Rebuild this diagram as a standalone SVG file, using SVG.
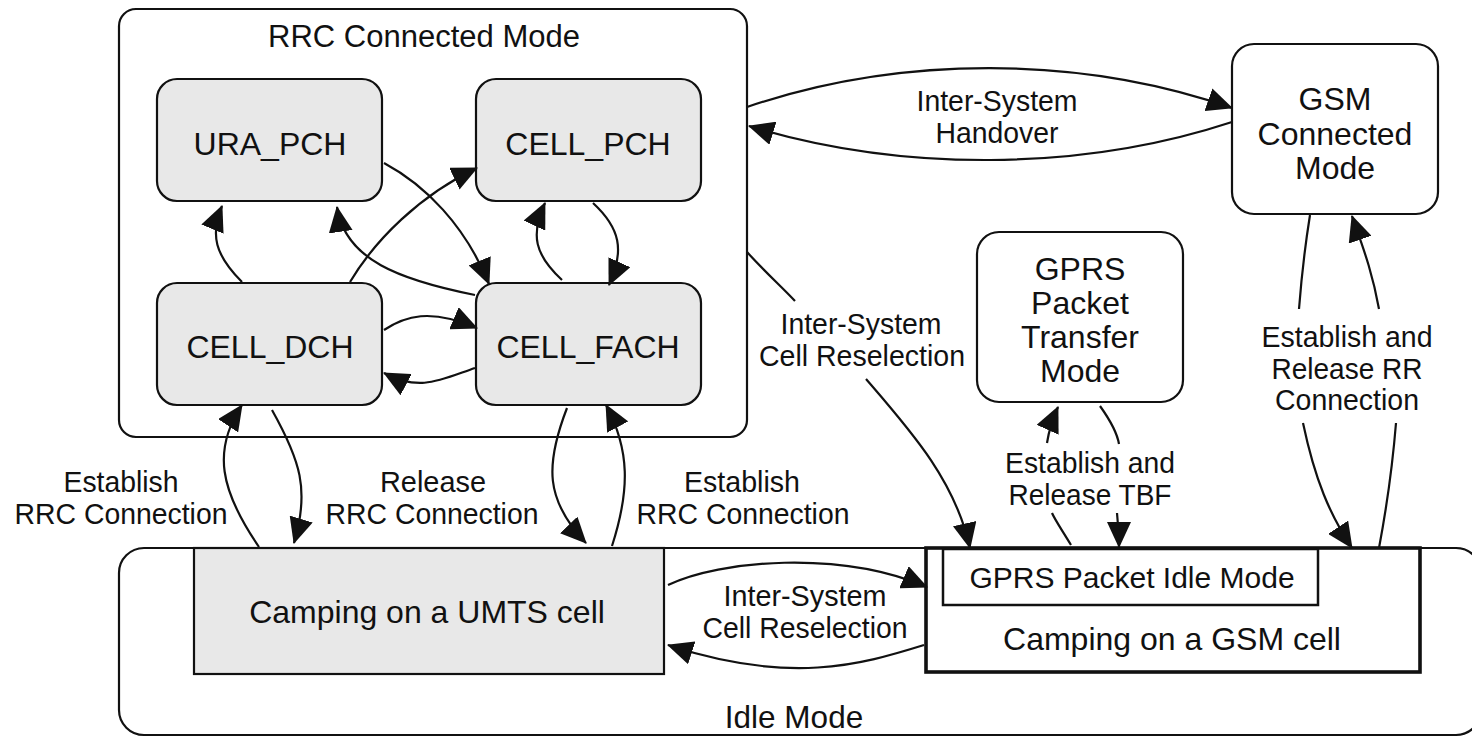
<svg xmlns="http://www.w3.org/2000/svg" width="1472" height="738" viewBox="0 0 1472 738">
<style>
text{font-family:"Liberation Sans",Arial,sans-serif;fill:#111;text-anchor:middle}
.n{font-size:32px}
.l{font-size:29px}
.box{fill:#fff;stroke:#111;stroke-width:2.2}
.st{fill:#e8e8e8;stroke:#111;stroke-width:2.2}
.c path{fill:none;stroke:#111;stroke-width:2.2}
.a{marker-end:url(#ah)}
</style>
<defs>
<marker id="ah" viewBox="0 0 26 24" refX="25" refY="12" markerWidth="26" markerHeight="24" markerUnits="userSpaceOnUse" orient="auto">
<path d="M0,0 L26,12 L0,24 z" fill="#111"/>
</marker>
</defs>
<g id="idle-mode">
<rect class="box" x="119" y="548" width="1362" height="187" rx="25"/>
<text class="n" x="794" y="728" style="font-size:31.5px">Idle Mode</text>
</g>
<g id="camping-umts">
<rect class="st" x="194" y="548" width="470" height="126"/>
<text class="n" x="427" y="623">Camping on a UMTS cell</text>
</g>
<g id="camping-gsm">
<rect x="926" y="548" width="494" height="124" fill="#fff" stroke="#111" stroke-width="3.6"/>
<text class="n" x="1172" y="650">Camping on a GSM cell</text>
</g>
<g id="gprs-idle">
<rect x="943" y="549" width="375" height="56" fill="#fff" stroke="#111" stroke-width="2.5"/>
<text class="n" x="1132" y="588" style="font-size:30px">GPRS Packet Idle Mode</text>
</g>
<g id="rrc-connected">
<rect class="box" x="119" y="9" width="628" height="428" rx="17"/>
<text class="n" x="424" y="47" style="font-size:31px">RRC Connected Mode</text>
</g>
<g id="ura-pch">
<rect class="st" x="157" y="79" width="225" height="122" rx="20"/>
<text class="n" x="270" y="155">URA_PCH</text>
</g>
<g id="cell-pch">
<rect class="st" x="476" y="79" width="225" height="122" rx="20"/>
<text class="n" x="588" y="155">CELL_PCH</text>
</g>
<g id="cell-dch">
<rect class="st" x="157" y="283" width="225" height="122" rx="20"/>
<text class="n" x="270" y="358">CELL_DCH</text>
</g>
<g id="cell-fach">
<rect class="st" x="476" y="283" width="225" height="122" rx="20"/>
<text class="n" x="588" y="358">CELL_FACH</text>
</g>
<g id="gsm-connected">
<rect class="box" x="1232" y="44" width="206" height="170" rx="22"/>
<text class="n" x="1335" y="110">GSM</text>
<text class="n" x="1335" y="145">Connected</text>
<text class="n" x="1335" y="179">Mode</text>
</g>
<g id="gprs-transfer">
<rect class="box" x="977" y="232" width="206" height="170" rx="22"/>
<text class="n" x="1080" y="280">GPRS</text>
<text class="n" x="1080" y="314">Packet</text>
<text class="n" x="1080" y="348">Transfer</text>
<text class="n" x="1080" y="382">Mode</text>
</g>
<g id="connectors" class="c">
<path class="a" d="M747 107 C900 55 1080 55 1232 108"/>
<path class="a" d="M1232 122 C1080 172 900 172 749 126"/>
<path class="a" d="M384 163 C425 185 465 225 489 284"/>
<path class="a" d="M350 282 C375 240 420 195 477 168"/>
<path class="a" d="M242 282 C215 255 210 235 222 206"/>
<path class="a" d="M475 295 C400 280 345 260 337 207"/>
<path class="a" d="M593 203 C620 228 625 250 609 285"/>
<path class="a" d="M562 280 C535 255 530 235 545 203"/>
<path class="a" d="M384 330 C405 316 430 308 477 328"/>
<path class="a" d="M475 368 C440 380 420 392 384 373"/>
<path class="a" d="M259 547 C220 490 212 450 242 405"/>
<path class="a" d="M272 410 C300 460 310 490 294 543"/>
<path class="a" d="M567 408 C545 465 545 500 586 543"/>
<path class="a" d="M612 546 C630 490 630 450 606 405"/>
<path d="M747 252 C765 272 782 287 795 301"/>
<path class="a" d="M866 379 C910 430 955 480 970 548"/>
<path d="M1071 545 C1062 530 1055 520 1052 513"/>
<path class="a" d="M1047 443 C1049 430 1053 418 1058 407"/>
<path d="M1100 406 C1110 420 1117 432 1119 444"/>
<path class="a" d="M1117 513 C1118 525 1119 535 1119 547"/>
<path d="M1299 309 C1302 270 1306 240 1310 215"/>
<path class="a" d="M1303 423 C1315 480 1330 515 1352 548"/>
<path d="M1379 548 C1388 500 1393 460 1396 423"/>
<path class="a" d="M1379 309 C1372 270 1362 245 1352 216"/>
<path class="a" d="M668 585 C720 560 840 550 927 587"/>
<path class="a" d="M924 645 C860 665 790 685 668 645"/>
</g>
<g id="labels">
<text class="l" x="997" y="111" textLength="161" lengthAdjust="spacingAndGlyphs">Inter-System</text>
<text class="l" x="997" y="143" textLength="123" lengthAdjust="spacingAndGlyphs">Handover</text>
<text class="l" x="861" y="334" textLength="161" lengthAdjust="spacingAndGlyphs">Inter-System</text>
<text class="l" x="862" y="366" textLength="206" lengthAdjust="spacingAndGlyphs">Cell Reselection</text>
<text class="l" x="1090" y="473" textLength="170" lengthAdjust="spacingAndGlyphs">Establish and</text>
<text class="l" x="1090" y="505" textLength="163" lengthAdjust="spacingAndGlyphs">Release TBF</text>
<text class="l" x="1347" y="347" textLength="171" lengthAdjust="spacingAndGlyphs">Establish and</text>
<text class="l" x="1347" y="379" textLength="151" lengthAdjust="spacingAndGlyphs">Release RR</text>
<text class="l" x="1347" y="410" textLength="144" lengthAdjust="spacingAndGlyphs">Connection</text>
<text class="l" x="121" y="492" textLength="115" lengthAdjust="spacingAndGlyphs">Establish</text>
<text class="l" x="121" y="524" textLength="213" lengthAdjust="spacingAndGlyphs">RRC Connection</text>
<text class="l" x="433" y="492" textLength="106" lengthAdjust="spacingAndGlyphs">Release</text>
<text class="l" x="432" y="524" textLength="213" lengthAdjust="spacingAndGlyphs">RRC Connection</text>
<text class="l" x="742" y="492" textLength="116" lengthAdjust="spacingAndGlyphs">Establish</text>
<text class="l" x="743" y="524" textLength="213" lengthAdjust="spacingAndGlyphs">RRC Connection</text>
<text class="l" x="805" y="606" textLength="163" lengthAdjust="spacingAndGlyphs">Inter-System</text>
<text class="l" x="805" y="638" textLength="205" lengthAdjust="spacingAndGlyphs">Cell Reselection</text>
</g>
</svg>
